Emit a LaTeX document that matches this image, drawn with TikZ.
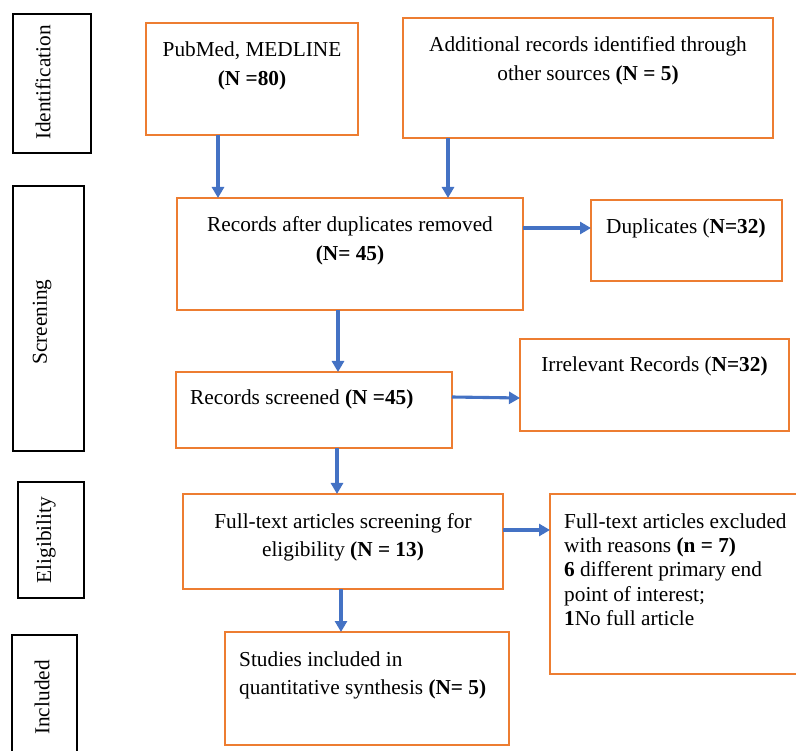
\documentclass[tikz,border=0pt]{standalone}
\usepackage{fontspec}
\setmainfont{Liberation Serif}
\usetikzlibrary{arrows.meta}
\definecolor{boxorange}{HTML}{ED7D31}
\definecolor{arrblue}{HTML}{4472C4}
\newcommand{\tl}[2]{\begin{tabular}[t]{@{}#1@{}}#2\end{tabular}}
\begin{document}
\begin{tikzpicture}[x=1pt,y=-1pt,
  obox/.style={draw=boxorange,line width=1.7pt,inner sep=0pt,outer sep=0pt},
  kbox/.style={draw=black,line width=1.8pt,inner sep=0pt,outer sep=0pt},
  lbl/.style={rotate=90,inner sep=0pt,font=\fontsize{21.3}{25}\selectfont},
  txt/.style={inner sep=0pt,anchor=base,font=\fontsize{21.3}{28.5}\selectfont},
  txtl/.style={inner sep=0pt,anchor=base west,font=\fontsize{21.3}{28.5}\selectfont},
  txts/.style={inner sep=0pt,anchor=base west,font=\fontsize{21.3}{24.5}\selectfont},
  arr/.style={draw=arrblue,line width=3.1pt,-{Triangle[length=11pt,width=12pt]}}]
\useasboundingbox (0,0) rectangle (796,751);
% stage boxes
\node[kbox,minimum width=78pt,minimum height=139pt] (idb) at (52,83.5) {};
\node[kbox,minimum width=71pt,minimum height=265pt] (scb) at (48.5,318.5) {};
\node[kbox,minimum width=66pt,minimum height=116pt] (elb) at (51,540) {};
\node[kbox,minimum width=65pt,minimum height=125pt] (inb) at (44.5,697.5) {};
\node[lbl] (idt) at (43,82.5) {Identification};
\node[lbl] (sct) at (42,322) {Screening};
\node[lbl] (elt) at (46,540) {Eligibility};
\node[lbl] (int) at (42,697.5) {Included};
% flow boxes
\node[obox,minimum width=212pt,minimum height=112pt] (pub) at (252,79) {};
\node[obox,minimum width=370pt,minimum height=120pt] (add) at (588,78) {};
\node[obox,minimum width=346pt,minimum height=112pt] (rd) at (350,254) {};
\node[obox,minimum width=191pt,minimum height=81pt] (dpl) at (686.5,240.5) {};
\node[obox,minimum width=276pt,minimum height=76pt] (scr) at (314,410) {};
\node[obox,minimum width=269pt,minimum height=92pt] (irr) at (654.5,385) {};
\node[obox,minimum width=320pt,minimum height=95pt] (ft) at (343,541.5) {};
\node[obox,minimum width=260pt,minimum height=180pt] (exc) at (680,584) {};
\node[obox,minimum width=284pt,minimum height=113pt] (stu) at (367,688.5) {};
% texts
\node[txt] (pubt) at (252,57) {\tl{c}{PubMed, MEDLINE\\\textbf{(N =80)}}};
\node[txt] (addt) at (588,52) {\tl{c}{Additional records identified through\\other sources \textbf{(N = 5)}}};
\node[txt] (rdt) at (350,232) {\tl{c}{Records after duplicates removed\\\textbf{(N= 45)}}};
\node[txtl] (dplt) at (606,234) {Duplicates (\textbf{N=32)}};
\node[txtl] (scrt) at (190,405) {Records screened \textbf{(N =45)}};
\node[txt] (irrt) at (654.5,372) {Irrelevant Records (\textbf{N=32)}};
\node[txt] (ftt) at (343,528) {\tl{c}{Full-text articles screening for\\eligibility \textbf{(N = 13)}}};
\node[txts] (exct) at (564,528) {\tl{l}{Full-text articles excluded\\with reasons \textbf{(n = 7)}\\\textbf{6} different primary end\\point of interest;\\\textbf{1}No full article}};
\node[txtl] (stut) at (239,666) {\tl{l}{Studies included in\\quantitative synthesis \textbf{(N= 5)}}};
% arrows
\draw[arr] (pub.south -| 218,0) -- (rd.north -| 218,0);
\draw[arr] (add.south -| 448,0) -- (rd.north -| 448,0);
\draw[arr] (rd.east |- 0,228) -- (dpl.west |- 0,228);
\draw[arr] (rd.south -| 338,0) -- (scr.north -| 338,0);
\draw[arr] (scr.east |- 0,397) -- (irr.west |- 0,398);
\draw[arr] (scr.south -| 337,0) -- (ft.north -| 337,0);
\draw[arr] (ft.east |- 0,530) -- (exc.west |- 0,530);
\draw[arr] (ft.south -| 341,0) -- (stu.north -| 341,0);
\end{tikzpicture}
\end{document}
